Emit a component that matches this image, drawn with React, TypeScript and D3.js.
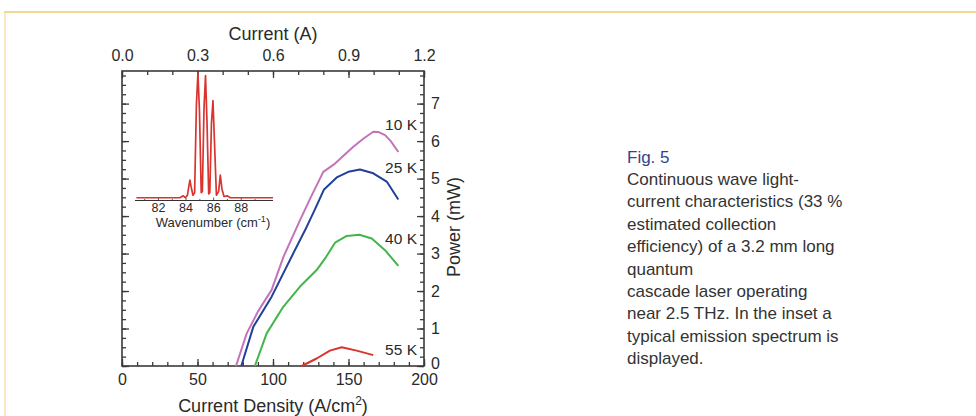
import React, { useRef, useEffect } from "react";
import * as d3 from "d3";

// light-current curves, [current density A/cm2, power mW]
const curve10K: [number, number][] = [
  [75.5, 0], [82.6, 0.87], [90, 1.45], [99.1, 2.03], [106.8, 2.9], [117.9, 3.89],
  [125, 4.5], [133.3, 5.18], [141.1, 5.4], [147, 5.62], [153.2, 5.85], [160, 6.07],
  [166.4, 6.25], [170, 6.24], [174.2, 6.16], [178, 6.0], [183, 5.71],
];
const curve25K: [number, number][] = [
  [79, 0], [87, 1.05], [99.1, 1.85], [106.8, 2.47], [114, 3.05], [122.3, 3.71],
  [128, 4.2], [133.8, 4.71], [142.2, 5.03], [149.9, 5.18], [157.6, 5.24],
  [166.4, 5.14], [175.3, 4.92], [183, 4.44],
];
const curve40K: [number, number][] = [
  [88, 0], [95.8, 0.87], [106.8, 1.58], [117.9, 2.12], [128.9, 2.56], [135, 2.9],
  [141.1, 3.29], [148.8, 3.47], [157.2, 3.5], [165.4, 3.4], [174.2, 3.09], [183, 2.67],
];
const curve55K: [number, number][] = [
  [119, 0], [128.9, 0.2], [137.7, 0.41], [145.5, 0.5], [155.4, 0.41], [166.4, 0.29],
];

const series = [
  { label: "10 K", color: "#c374b9", data: curve10K, labelY: 6.45 },
  { label: "25 K", color: "#21409a", data: curve25K, labelY: 5.3 },
  { label: "40 K", color: "#43b549", data: curve40K, labelY: 3.4 },
  { label: "55 K", color: "#d9342f", data: curve55K, labelY: 0.43 },
];

// inset emission spectrum
const wavenumbers = [
  80.4, 83.55, 83.8, 83.95, 84.1, 84.2, 84.28, 84.36, 84.5, 84.62, 84.75, 84.86,
  84.97, 85.1, 85.18, 85.3, 85.41, 85.52, 85.64, 85.72, 85.84, 85.95, 86.06, 86.2,
  86.36, 86.48, 86.6, 86.75, 87.0, 87.2, 90.3,
];
const intensities = [
  0.01, 0.01, 0.025, 0.01, 0.03, 0.1, 0.15, 0.1, 0.03, 0.05, 0.75, 1.0,
  0.7, 0.05, 0.06, 0.72, 0.98, 0.6, 0.04, 0.05, 0.6, 0.78, 0.45, 0.03,
  0.06, 0.19, 0.08, 0.02, 0.025, 0.01, 0.01,
];
const insetTicks = [82, 84, 86, 88];

const captionTitle = "Fig. 5";
const captionLines = [
  "Continuous wave light-",
  "current characteristics (33 %",
  "estimated collection",
  "efficiency) of a 3.2 mm long",
  "quantum",
  "cascade laser operating",
  "near 2.5 THz. In the inset a",
  "typical emission spectrum is",
  "displayed.",
];

const FONT = "'Liberation Sans', Arial, sans-serif";
const AXIS = "#3a3a3a";

const App = () => {
  const ref = useRef<SVGSVGElement | null>(null);

  useEffect(() => {
    const svg = d3.select(ref.current);
    svg.selectAll("*").remove();

    const left = 122, right = 424, top = 71, bottom = 366;
    const x = d3.scaleLinear().domain([0, 200]).range([left, right]);
    const xTop = d3.scaleLinear().domain([0, 1.2]).range([left, right]);
    const y = d3.scaleLinear().domain([0, 7.87]).range([bottom, top]);

    // page border
    svg.append("line").attr("x1", 4).attr("x2", 976).attr("y1", 12).attr("y2", 12)
      .attr("stroke", "#f3d68f").attr("stroke-width", 2);
    svg.append("line").attr("x1", 5).attr("x2", 5).attr("y1", 12).attr("y2", 416)
      .attr("stroke", "#f7e2ae").attr("stroke-width", 1.5);

    const styleAxis = (g: any) => {
      g.select(".domain").remove();
      g.selectAll("line").attr("stroke", AXIS).attr("stroke-width", 1.3);
      g.selectAll("text").attr("fill", "#2a2a2a").style("font-family", FONT).style("font-size", "16px");
    };

    // minor ticks
    svg.append("g").attr("transform", `translate(0,${bottom})`)
      .call(d3.axisBottom(x).tickValues(d3.range(0, 201, 10)).tickSize(-4).tickFormat(() => ""))
      .call(styleAxis);
    svg.append("g").attr("transform", `translate(0,${top})`)
      .call(d3.axisTop(xTop).tickValues(d3.range(0, 13).map((d) => d / 10)).tickSize(-4).tickFormat(() => ""))
      .call(styleAxis);
    const yMinor = d3.range(0, 32).map((d) => d / 4);
    svg.append("g").attr("transform", `translate(${right},0)`)
      .call(d3.axisRight(y).tickValues(yMinor).tickSize(-4).tickFormat(() => ""))
      .call(styleAxis);
    svg.append("g").attr("transform", `translate(${left},0)`)
      .call(d3.axisLeft(y).tickValues(yMinor).tickSize(-4).tickFormat(() => ""))
      .call(styleAxis);

    // major ticks with labels
    svg.append("g").attr("transform", `translate(0,${bottom})`)
      .call(d3.axisBottom(x).tickValues([0, 50, 100, 150, 200]).tickSize(-7).tickPadding(8).tickFormat(d3.format("d")))
      .call(styleAxis);
    svg.append("g").attr("transform", `translate(0,${top})`)
      .call(d3.axisTop(xTop).tickValues([0, 0.3, 0.6, 0.9, 1.2]).tickSize(-7).tickPadding(10).tickFormat(d3.format(".1f")))
      .call(styleAxis);
    const yr = svg.append("g").attr("transform", `translate(${right},0)`)
      .call(d3.axisRight(y).tickValues(d3.range(0, 8)).tickSize(-7).tickPadding(7).tickFormat(d3.format("d")))
      .call(styleAxis);
    // keep the "0" clear of the "200" below it
    yr.selectAll("text").filter((d: any) => d === 0).attr("y", -2.5);
    svg.append("g").attr("transform", `translate(${left},0)`)
      .call(d3.axisLeft(y).tickValues(d3.range(0, 8)).tickSize(-7).tickFormat(() => ""))
      .call(styleAxis);

    // frame
    svg.append("rect").attr("x", left).attr("y", top).attr("width", right - left).attr("height", bottom - top)
      .attr("fill", "none").attr("stroke", AXIS).attr("stroke-width", 1.6);

    // axis titles
    svg.append("text").attr("x", (left + right) / 2).attr("y", 39.5).attr("text-anchor", "middle")
      .style("font-family", FONT).style("font-size", "18px").attr("fill", "#2a2a2a").text("Current (A)");
    const xt = svg.append("text").attr("x", (left + right) / 2).attr("y", 412).attr("text-anchor", "middle")
      .style("font-family", FONT).style("font-size", "18px").attr("fill", "#2a2a2a");
    xt.append("tspan").text("Current Density (A/cm");
    xt.append("tspan").attr("dy", -7).style("font-size", "12px").text("2");
    xt.append("tspan").attr("dy", 7).text(")");
    svg.append("text").attr("transform", `translate(460,227) rotate(-90)`).attr("text-anchor", "middle")
      .style("font-family", FONT).style("font-size", "18px").attr("fill", "#2a2a2a").text("Power (mW)");

    // curves
    const line = d3.line<[number, number]>().x((d) => x(d[0])).y((d) => y(d[1]));
    series.forEach((s) => {
      svg.append("path").attr("d", line(s.data)).attr("fill", "none")
        .attr("stroke", s.color).attr("stroke-width", 2).attr("stroke-linejoin", "round");
      svg.append("text").attr("x", 417).attr("y", y(s.labelY)).attr("dy", "0.35em").attr("text-anchor", "end")
        .style("font-family", FONT).style("font-size", "15.5px").attr("fill", "#2a2a2a").text(s.label);
    });

    // inset
    const wx = d3.scaleLinear().domain([80.3, 90.3]).range([135, 273]);
    const wy = d3.scaleLinear().domain([0, 1]).range([199, 73]);
    svg.append("line").attr("x1", wx(80.3)).attr("x2", wx(90.3)).attr("y1", 200.5).attr("y2", 200.5)
      .attr("stroke", "#333").attr("stroke-width", 1);
    const inset = svg.append("g");
    inset.selectAll("line.it").data(d3.range(81, 90)).join("line").attr("class", "it")
      .attr("x1", (d) => wx(d)).attr("x2", (d) => wx(d)).attr("y1", 200.5).attr("y2", (d) => (d % 2 === 0 ? 197.5 : 199))
      .attr("stroke", "#333").attr("stroke-width", 0.8);
    inset.selectAll("text.il").data(insetTicks).join("text").attr("class", "il")
      .attr("x", (d) => wx(d)).attr("y", 212).attr("text-anchor", "middle")
      .style("font-family", FONT).style("font-size", "12.5px").attr("fill", "#2a2a2a").text((d) => String(d));
    const spec: [number, number][] = wavenumbers.map((w, i) => [w, intensities[i]]);
    const sline = d3.line<[number, number]>().x((d) => wx(d[0])).y((d) => wy(d[1]));
    inset.append("path").attr("d", sline(spec)).attr("fill", "none").attr("stroke", "#d9342f")
      .attr("stroke-width", 1.7).attr("stroke-linejoin", "round");
    const wt = inset.append("text").attr("x", 213).attr("y", 227).attr("text-anchor", "middle")
      .style("font-family", FONT).style("font-size", "13px").attr("fill", "#2a2a2a");
    wt.append("tspan").text("Wavenumber (cm");
    wt.append("tspan").attr("dy", -5).style("font-size", "9px").text("-1");
    wt.append("tspan").attr("dy", 5).text(")");

    // caption
    svg.append("text").attr("x", 627).attr("y", 162.5).style("font-family", FONT).style("font-size", "17px")
      .attr("fill", "#35428c").text(captionTitle);
    svg.selectAll("text.cap").data(captionLines).join("text").attr("class", "cap")
      .attr("x", 627).attr("y", (_, i) => 185 + i * 22.4)
      .style("font-family", FONT).style("font-size", "17px").attr("fill", "#333").text((d) => d);
  }, []);

  return (
    <svg ref={ref} width={976} height={416}
      style={{ position: "absolute", left: 0, top: 0, background: "#fff" }} />
  );
};

export default App;
